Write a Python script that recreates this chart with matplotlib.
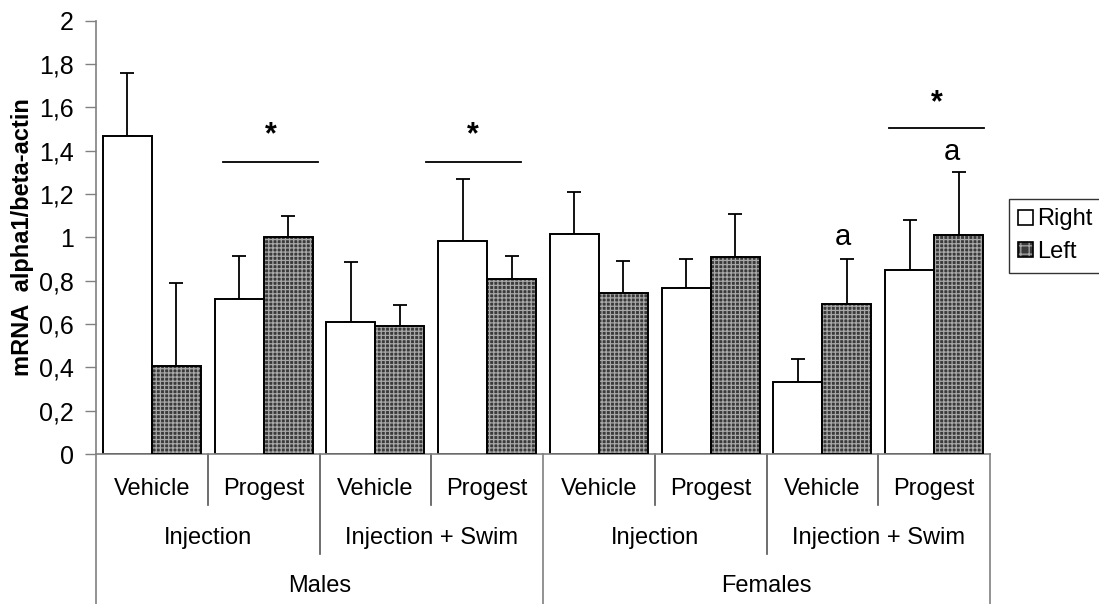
import matplotlib
matplotlib.use("Agg")
import matplotlib.pyplot as plt
from matplotlib.patches import Patch
from matplotlib.lines import Line2D
from matplotlib.legend_handler import HandlerTuple
import numpy as np

plt.rcParams['font.family'] = ['Liberation Sans', 'DejaVu Sans']
plt.rcParams['hatch.linewidth'] = 0.9

# Treatments, sub-groups and sexes (three-level category axis)
treatments = ["Vehicle", "Progest"] * 4
procedures = ["Injection", "Injection + Swim", "Injection", "Injection + Swim"]
sexes = ["Males", "Females"]

# Mean mRNA alpha1/beta-actin ratios and SEM (upper bars only)
right_mean = [1.467, 0.717, 0.608, 0.983, 1.017, 0.766, 0.331, 0.849]
right_err = [0.293, 0.198, 0.277, 0.286, 0.191, 0.134, 0.109, 0.232]
left_mean = [0.407, 1.001, 0.592, 0.809, 0.743, 0.909, 0.692, 1.011]
left_err = [0.383, 0.099, 0.098, 0.106, 0.148, 0.199, 0.208, 0.289]

series_names = ["Right", "Left"]

# Significance brackets: (x start, x end, y, label y)
sig_lines = [(1.136, 1.987, 1.346, 1.47),
             (2.95, 3.80, 1.346, 1.47),
             (7.096, 7.946, 1.506, 1.62)]
# Letter annotations: (x, y, text)
letters = [(6.68, 1.00, "a"), (7.66, 1.395, "a")]

yticks = np.arange(0, 2.01, 0.2)
ytick_labels = [("%g" % round(v, 1)).replace(".", ",") for v in yticks]

W, H = 1099, 604
fig = plt.figure(figsize=(W / 100, H / 100), dpi=100)
ax = fig.add_axes([96 / W, 1 - 454 / H, (990 - 96) / W, (454 - 20.7) / H])

n = len(treatments)
x = np.arange(n) + 0.5
bw = 0.4386
dark = "#3a3a3a"
dots = "#a8a8a8"
axis_grey = "#808080"
fs = 17

err_kw = dict(ecolor="black", elinewidth=1.3, capsize=5, capthick=1.3)

# Right (open) bars
ax.bar(x - bw / 2, right_mean, bw, color="white", edgecolor="black",
       linewidth=1.4, zorder=2)
ax.errorbar(x - bw / 2, right_mean, yerr=[np.zeros(n), right_err],
            fmt="none", zorder=1, **err_kw)

# Left (dotted) bars: patterned fill, then black outline
ax.bar(x + bw / 2, left_mean, bw, color=dark, edgecolor=dots, linewidth=0,
       hatch="++++", zorder=2)
ax.bar(x + bw / 2, left_mean, bw, fill=False, edgecolor="black",
       linewidth=1.4, zorder=3)
ax.errorbar(x + bw / 2, left_mean, yerr=[np.zeros(n), left_err],
            fmt="none", zorder=1, **err_kw)

for x0, x1, yl, ys in sig_lines:
    ax.plot([x0, x1], [yl, yl], color="black", lw=1.3, zorder=3)
    ax.text((x0 + x1) / 2, ys, "*", ha="center", va="center",
            fontsize=22, fontweight="bold")
for xl, yl, t in letters:
    ax.text(xl, yl, t, ha="center", va="center", fontsize=21)

ax.set_xlim(0, n)
ax.set_ylim(0, 2)
ax.set_yticks(yticks)
ax.set_yticklabels(ytick_labels, fontsize=fs + 1)
ax.tick_params(axis="y", length=8, width=1, color=axis_grey, pad=8)
ax.set_xticks([])
for s in ["top", "right"]:
    ax.spines[s].set_visible(False)
for s in ["left", "bottom"]:
    ax.spines[s].set_color(axis_grey)
    ax.spines[s].set_linewidth(1.2)

ax.set_ylabel("mRNA  alpha1/beta-actin", fontsize=fs, fontweight="bold")
ax.yaxis.set_label_coords((34 - 96) / (990 - 96), 0.5)

# Multi-level category labels beneath the axis
trans = ax.get_xaxis_transform()
ah = 454 - 20.7


def yfrac(py):
    return (454 - py) / ah


for i, t in enumerate(treatments):
    ax.text(i + 0.5, yfrac(489), t, transform=trans, ha="center",
            va="center", fontsize=fs)
for j, p in enumerate(procedures):
    ax.text(2 * j + 1, yfrac(538), p, transform=trans, ha="center",
            va="center", fontsize=fs)
for k, s in enumerate(sexes):
    ax.text(4 * k + 2, yfrac(586), s, transform=trans, ha="center",
            va="center", fontsize=fs)

for b in range(n + 1):
    if b % 4 == 0:
        bottom = 604
    elif b % 2 == 0:
        bottom = 554
    else:
        bottom = 505
    ax.add_line(Line2D([b, b], [0, yfrac(bottom)], transform=trans,
                       color=axis_grey if b % 4 == 0 else "#555555",
                       lw=1.2, clip_on=False))

# Legend
h_right = Patch(facecolor="white", edgecolor="black", linewidth=1.2)
h_left = (Patch(facecolor=dark, edgecolor=dots, linewidth=0, hatch="++"),
          Patch(fill=False, edgecolor="black", linewidth=1.2))
leg = fig.legend([h_right, h_left], series_names, loc="upper left",
                 bbox_to_anchor=(1009 / W, 1 - 199 / H), borderaxespad=0,
                 fontsize=fs, frameon=True, fancybox=False,
                 handlelength=0.6, handleheight=0.6, handletextpad=0.2,
                 borderpad=0.4, labelspacing=0.45,
                 handler_map={tuple: HandlerTuple(ndivide=1)})
leg.get_frame().set_edgecolor("black")
leg.get_frame().set_linewidth(1.0)

fig.savefig("out.png", dpi=100)
